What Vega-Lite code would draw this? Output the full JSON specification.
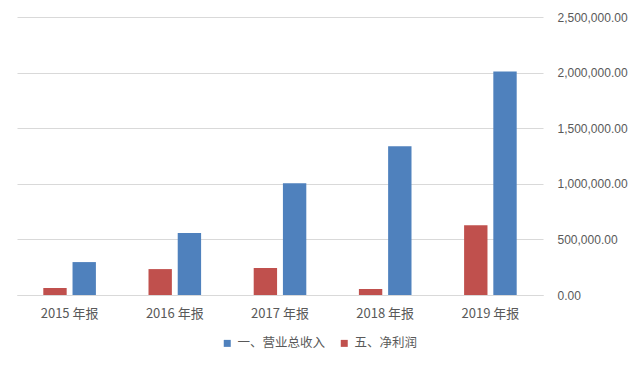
{
  "$schema": "https://vega.github.io/schema/vega-lite/v6.json",
  "width": 526,
  "height": 278,
  "autosize": "none",
  "padding": {"left": 17, "top": 17, "right": 97, "bottom": 72},
  "background": "white",
  "config": {
    "view": {"stroke": null},
    "font": "Noto Sans CJK SC"
  },
  "data": {
    "values": [
      {"period": "2015 年报", "series": "一、营业总收入", "value": 296000},
      {"period": "2015 年报", "series": "五、净利润", "value": 63000},
      {"period": "2016 年报", "series": "一、营业总收入", "value": 557000},
      {"period": "2016 年报", "series": "五、净利润", "value": 233000},
      {"period": "2017 年报", "series": "一、营业总收入", "value": 1005000},
      {"period": "2017 年报", "series": "五、净利润", "value": 242000},
      {"period": "2018 年报", "series": "一、营业总收入", "value": 1337000},
      {"period": "2018 年报", "series": "五、净利润", "value": 54000},
      {"period": "2019 年报", "series": "一、营业总收入", "value": 2010000},
      {"period": "2019 年报", "series": "五、净利润", "value": 628000}
    ]
  },
  "mark": {"type": "bar"},
  "encoding": {
    "x": {
      "field": "period",
      "type": "nominal",
      "scale": {"paddingInner": 0.5, "paddingOuter": 0.25},
      "axis": {
        "title": null,
        "labelAngle": 0,
        "labelFontSize": 13,
        "labelColor": "#595959",
        "labelFont": "Noto Sans CJK SC",
        "labelPadding": 12,
        "ticks": false,
        "domainColor": "#d9d9d9",
        "grid": false
      }
    },
    "xOffset": {
      "field": "series",
      "type": "nominal",
      "sort": ["五、净利润", "一、营业总收入"],
      "scale": {"paddingInner": 0.2, "paddingOuter": 0}
    },
    "y": {
      "field": "value",
      "type": "quantitative",
      "scale": {"domain": [0, 2500000], "nice": false},
      "axis": {
        "orient": "right",
        "title": null,
        "values": [0, 500000, 1000000, 1500000, 2000000, 2500000],
        "format": ",.2f",
        "labelFontSize": 12,
        "labelColor": "#595959",
        "labelFont": "Liberation Sans",
        "labelPadding": 14,
        "ticks": false,
        "domain": false,
        "gridColor": "#d9d9d9"
      }
    },
    "color": {
      "field": "series",
      "type": "nominal",
      "scale": {
        "domain": ["一、营业总收入", "五、净利润"],
        "range": ["#4f81bd", "#c0504d"]
      },
      "legend": {
        "title": null,
        "orient": "none",
        "direction": "horizontal",
        "legendX": 204,
        "legendY": 320,
        "symbolType": "square",
        "symbolSize": 49,
        "labelFontSize": 12.5,
        "labelColor": "#595959",
        "labelFont": "Noto Sans CJK SC",
        "columnPadding": 12,
        "symbolStrokeWidth": 0
      }
    }
  }
}
